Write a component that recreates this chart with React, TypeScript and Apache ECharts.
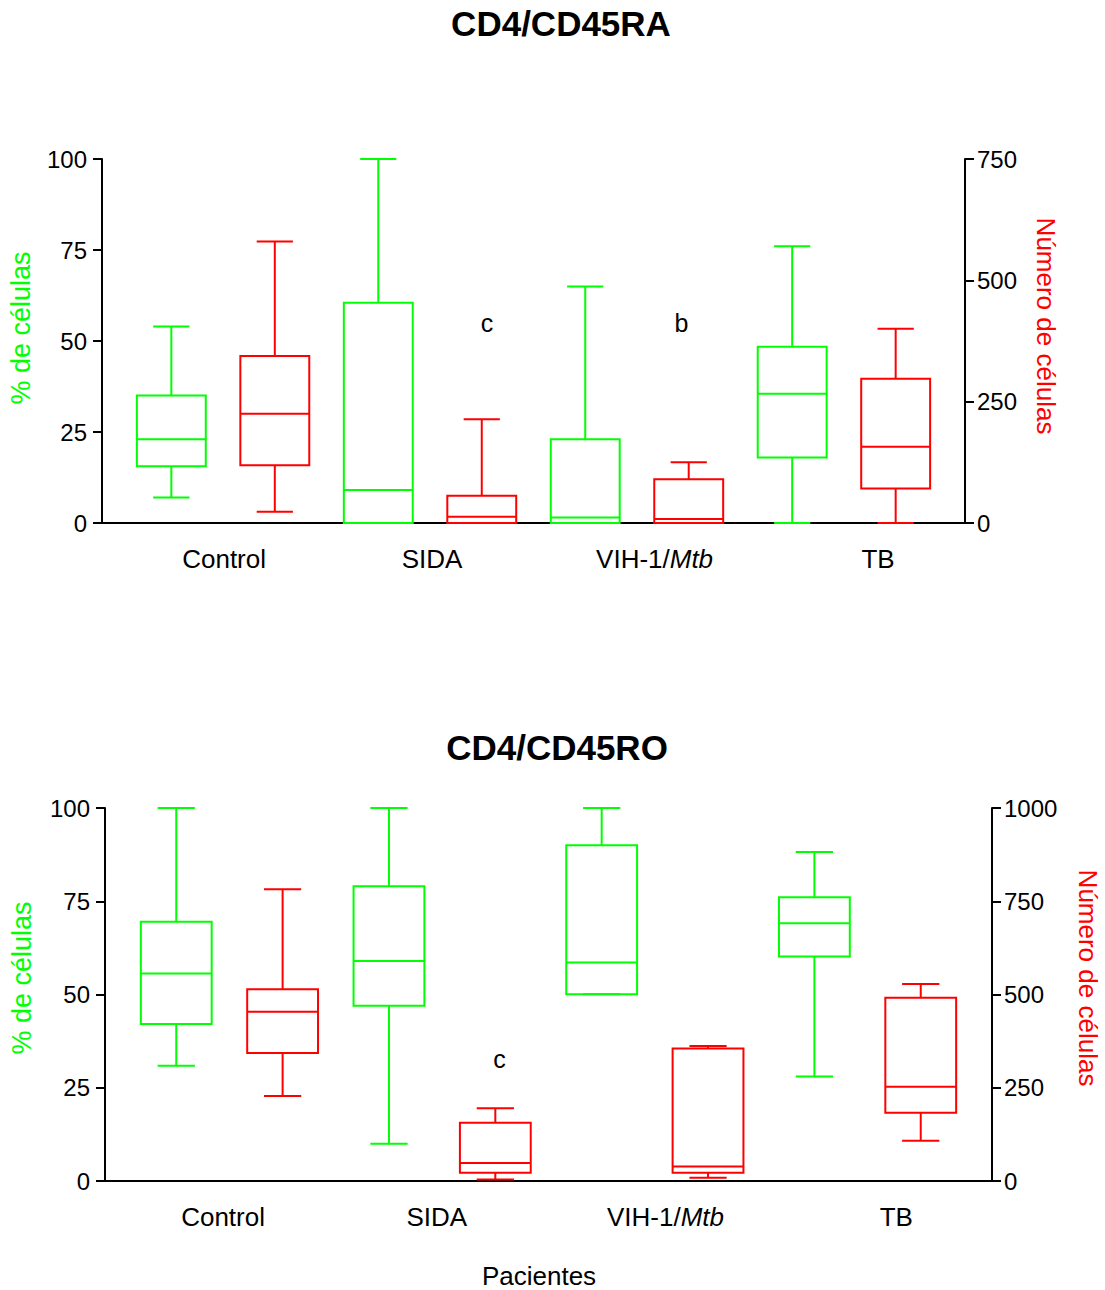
import React, { useEffect, useRef } from "react";
import * as echarts from "echarts";

// ---------- data ----------
const categories = ["Control", "SIDA", "VIH-1/Mtb", "TB"];

// Top panel (CD4/CD45RA): [min, Q1, median, Q3, max]
const raPercent = [
  [7, 15.6, 23, 35, 54],
  [0, 0, 9.1, 60.5, 100],
  [0, 0, 1.5, 23, 65],
  [0, 18, 35.5, 48.4, 76],
];
const raCount = [
  [23, 119, 225, 344, 580],
  [0, 0, 13, 56, 214],
  [0, 0, 8, 90, 125],
  [0, 71, 157, 297, 400],
];

// Bottom panel (CD4/CD45RO): [min, Q1, median, Q3, max]
const roPercent = [
  [30.9, 42.1, 55.6, 69.5, 100],
  [10, 47, 59, 79, 100],
  [50.1, 50.1, 58.6, 90, 100],
  [28, 60.2, 69.1, 76.1, 88.2],
];
const roCount = [
  [228, 343, 454, 514, 782],
  [4, 22, 48, 156, 195],
  [9, 22, 39, 355, 362],
  [108, 183, 253, 491, 528],
];

// significance letters: [slot, % value, letter]
const raLetters: [number, number, string][] = [
  [3.05, 55, "c"],
  [4.93, 55, "b"],
];
const roLetters: [number, number, string][] = [[3.04, 32.7, "c"]];

const percentTicks = { min: 0, max: 100, interval: 25 };
const raCountTicks = { min: 0, max: 750, interval: 250 };
const roCountTicks = { min: 0, max: 1000, interval: 250 };

// ---------- layout / style ----------
const FONT = "'Liberation Sans', Arial, Helvetica, sans-serif";
const GREEN = "#00ff00";
const RED = "#ff0000";
const BOX_W = 0.666;
const CAP_W = 0.35;
const X_MIN = -0.67;
const X_MAX = 7.67;
const topLabelPos = [0.51, 2.52, 4.67, 6.83];
const botLabelPos = [0.44, 2.45, 4.6, 6.77];

function boxSeries(data: number[][], slotOffset: number, xAxisIndex: number, yAxisIndex: number, color: string) {
  return {
    type: "custom",
    xAxisIndex,
    yAxisIndex,
    clip: false,
    encode: { x: 0, y: [1, 2, 3, 4, 5] },
    data: data.map((d, i) => [2 * i + slotOffset, ...d]),
    renderItem: (params: any, api: any) => {
      const x = api.value(0);
      const mn = api.value(1);
      const q1 = api.value(2);
      const md = api.value(3);
      const q3 = api.value(4);
      const mx = api.value(5);
      const pMin = api.coord([x, mn]);
      const pQ1 = api.coord([x, q1]);
      const pMd = api.coord([x, md]);
      const pQ3 = api.coord([x, q3]);
      const pMax = api.coord([x, mx]);
      const cx = pMin[0];
      const hb = (api.coord([x + BOX_W / 2, 0])[0] - api.coord([x - BOX_W / 2, 0])[0]) / 2;
      const hc = (api.coord([x + CAP_W / 2, 0])[0] - api.coord([x - CAP_W / 2, 0])[0]) / 2;
      const st = { stroke: color, lineWidth: 2, fill: "none" };
      return {
        type: "group",
        children: [
          { type: "line", shape: { x1: cx, y1: pQ3[1], x2: cx, y2: pMax[1] }, style: st },
          { type: "line", shape: { x1: cx - hc, y1: pMax[1], x2: cx + hc, y2: pMax[1] }, style: st },
          { type: "line", shape: { x1: cx, y1: pQ1[1], x2: cx, y2: pMin[1] }, style: st },
          { type: "line", shape: { x1: cx - hc, y1: pMin[1], x2: cx + hc, y2: pMin[1] }, style: st },
          {
            type: "rect",
            shape: { x: cx - hb, y: pQ3[1], width: 2 * hb, height: pQ1[1] - pQ3[1] },
            style: st,
          },
          { type: "line", shape: { x1: cx - hb, y1: pMd[1], x2: cx + hb, y2: pMd[1] }, style: st },
        ],
      };
    },
  };
}

function letterSeries(data: [number, number, string][], xAxisIndex: number, yAxisIndex: number) {
  return {
    type: "custom",
    xAxisIndex,
    yAxisIndex,
    clip: false,
    encode: { x: 0, y: 1 },
    data: data.map((d) => [d[0], d[1], d[2]]),
    renderItem: (params: any, api: any) => {
      const p = api.coord([api.value(0), api.value(1)]);
      const t = data[params.dataIndex][2];
      return {
        type: "text",
        x: p[0],
        y: p[1],
        style: {
          text: t,
          fill: "#000",
          fontSize: 25,
          fontFamily: FONT,
          align: "center",
          verticalAlign: "middle",
        },
      };
    },
  };
}

function xAxisDef(gridIndex: number, labelPos: number[]) {
  return {
    type: "value",
    gridIndex,
    min: X_MIN,
    max: X_MAX,
    axisLine: { show: true, onZero: false, lineStyle: { color: "#000", width: 2 } },
    axisTick: { show: false },
    splitLine: { show: false },
    axisLabel: {
      show: true,
      customValues: labelPos,
      margin: 23,
      fontSize: 26,
      color: "#000",
      fontFamily: FONT,
      formatter: (v: number) => {
        let best = 0;
        let bd = Infinity;
        labelPos.forEach((p, i) => {
          const d = Math.abs(p - v);
          if (d < bd) {
            bd = d;
            best = i;
          }
        });
        const name = categories[best];
        if (name.endsWith("Mtb")) return name.replace("Mtb", "") + "{i|Mtb}";
        return name;
      },
      rich: {
        i: { fontStyle: "italic", fontSize: 26, color: "#000", fontFamily: FONT },
      },
    },
  };
}

function yAxisDef(gridIndex: number, ticks: { min: number; max: number; interval: number }, position: string, margin: number) {
  return {
    type: "value",
    gridIndex,
    position,
    min: ticks.min,
    max: ticks.max,
    interval: ticks.interval,
    axisLine: { show: true, onZero: false, lineStyle: { color: "#000", width: 2 } },
    axisTick: { show: true, length: 9, lineStyle: { color: "#000", width: 2 } },
    splitLine: { show: false },
    axisLabel: {
      margin,
      fontSize: 24,
      color: "#000",
      fontFamily: FONT,
      formatter: (v: number) => String(v),
    },
  };
}

function gtext(text: string, x: number, y: number, opts: any = {}) {
  return {
    type: "text",
    x,
    y,
    rotation: opts.rotation || 0,
    style: {
      text,
      fill: opts.color || "#000",
      fontSize: opts.fontSize || 26,
      fontWeight: opts.fontWeight || "normal",
      fontFamily: FONT,
      align: "center",
      verticalAlign: "middle",
    },
  };
}

export default function App() {
  const ref = useRef<HTMLDivElement>(null);
  useEffect(() => {
    if (!ref.current) return;
    const chart = echarts.init(ref.current, undefined, { renderer: "svg" });
    const option: any = {
      animation: false,
      backgroundColor: "#fff",
      textStyle: { fontFamily: FONT },
      grid: [
        { left: 102, top: 159, width: 863, height: 364, outerBoundsMode: "none" },
        { left: 105, top: 808, width: 887, height: 373, outerBoundsMode: "none" },
      ],
      xAxis: [xAxisDef(0, topLabelPos), xAxisDef(1, botLabelPos)],
      yAxis: [
        yAxisDef(0, percentTicks, "left", 15),
        yAxisDef(0, raCountTicks, "right", 12),
        yAxisDef(1, percentTicks, "left", 15),
        yAxisDef(1, roCountTicks, "right", 12),
      ],
      series: [
        boxSeries(raPercent, 0, 0, 0, GREEN),
        boxSeries(raCount, 1, 0, 1, RED),
        boxSeries(roPercent, 0, 1, 2, GREEN),
        boxSeries(roCount, 1, 1, 3, RED),
        letterSeries(raLetters, 0, 0),
        letterSeries(roLetters, 1, 2),
      ],
      graphic: [
        gtext("CD4/CD45RA", 561, 23, { fontSize: 35, fontWeight: "bold" }),
        gtext("CD4/CD45RO", 557, 747, { fontSize: 35, fontWeight: "bold" }),
        gtext("% de células", 21, 328, { color: GREEN, rotation: Math.PI / 2, fontSize: 27 }),
        gtext("Número de células", 1046, 326, { color: RED, rotation: -Math.PI / 2 }),
        gtext("% de células", 22, 978, { color: GREEN, rotation: Math.PI / 2, fontSize: 27 }),
        gtext("Número de células", 1088, 978, { color: RED, rotation: -Math.PI / 2 }),
        gtext("Pacientes", 539, 1276),
      ],
    };
    chart.setOption(option);
    return () => chart.dispose();
  }, []);
  return (
    <div
      ref={ref}
      style={{ position: "absolute", left: 0, top: 0, width: 1105, height: 1290 }}
    />
  );
}
